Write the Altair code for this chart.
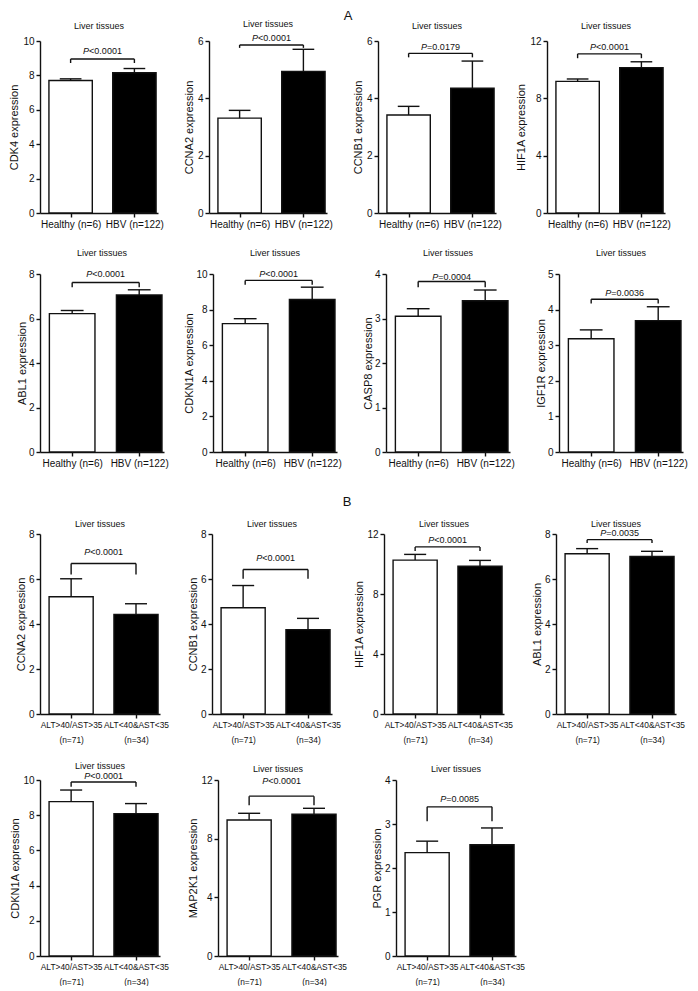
import json
import altair as alt
import pandas as pd

FONT = "Liberation Sans"

# ---------------- data ----------------
genes = ["CDK4", "CCNA2", "CCNB1", "HIF1A",
         "ABL1", "CDKN1A", "CASP8", "IGF1R",
         "CCNA2", "CCNB1", "HIF1A", "ABL1",
         "CDKN1A", "MAP2K1", "PGR"]
mean_g1 = [7.70, 3.31, 3.42, 9.18,
           6.22, 7.21, 3.05, 3.18,
           5.21, 4.72, 10.26, 7.12,
           8.77, 9.27, 2.35]
sd_g1 = [0.10, 0.27, 0.30, 0.17,
         0.14, 0.28, 0.17, 0.25,
         0.80, 0.99, 0.38, 0.23,
         0.66, 0.46, 0.26]
mean_g2 = [8.15, 4.94, 4.35, 10.14,
           7.06, 8.57, 3.40, 3.69,
           4.43, 3.75, 9.85, 7.00,
           8.09, 9.66, 2.53]
sd_g2 = [0.25, 0.77, 0.95, 0.41,
         0.23, 0.69, 0.24, 0.39,
         0.47, 0.50, 0.39, 0.23,
         0.57, 0.41, 0.38]
p_rest = ["<0.0001", "<0.0001", "=0.0179", "<0.0001",
          "<0.0001", "<0.0001", "=0.0004", "=0.0036",
          "<0.0001", "<0.0001", "<0.0001", "=0.0035",
          "<0.0001", "<0.0001", "=0.0085"]
y_max = [10, 6, 6, 12,
         8, 10, 4, 5,
         8, 8, 12, 8,
         10, 12, 4]
y_step = [2, 2, 2, 4,
          2, 2, 1, 1,
          2, 2, 4, 2,
          2, 4, 1]
bracket_y = [8.95, 5.86, 5.57, 11.10,
             7.62, 9.64, 3.83, 4.29,
             6.69, 6.42, 11.14, 7.75,
             9.89, 10.90, 3.39]
bracket_end = [8.72, 5.76, 5.43, 10.80,
               7.40, 9.40, 3.70, 4.17,
               6.20, 6.01, 10.87, 7.60,
               9.62, 10.27, 3.06]
p_text_y = [9.40, 6.10, 5.78, 11.57,
            7.98, 10.02, 3.94, 4.48,
            7.20, 6.94, 11.60, 8.03,
            10.20, 11.90, 3.56]
groups = ["g1", "g2"]
labels_A = [["Healthy (n=6)"], ["HBV (n=122)"]]
labels_B = [["ALT>40/AST>35", "(n=71)"], ["ALT<40&AST<35", "(n=34)"]]
panel_title = "Liver tissues"
section_titles = ["A", "B"]

# ---------------- chart ----------------
INK = "#111111"
LW = 1.4


def panel(i, labels, W, H, t_offset, t_pad, xfont):
    bars = pd.DataFrame({"pos": [0, 1], "group": groups,
                         "mean": [mean_g1[i], mean_g2[i]],
                         "sd": [sd_g1[i], sd_g2[i]]})
    brk = pd.DataFrame({"pos": [0, 1], "y": [bracket_y[i]] * 2,
                        "yend": [bracket_end[i]] * 2})
    txt = pd.DataFrame({"pos": [0, 1], "y": [p_text_y[i]] * 2,
                        "p": ["P", "P"], "rest": [p_rest[i]] * 2})

    xs = alt.Scale(domain=[-0.48, 1.37], nice=False, zero=False)
    ys = alt.Scale(domain=[0, y_max[i]], nice=False, zero=True)
    lab_expr = f"datum.value == 0 ? {json.dumps(labels[0])} : {json.dumps(labels[1])}"
    xaxis = alt.Axis(values=[0, 1], labelExpr=lab_expr, title=None, grid=False,
                     tickSize=4, labelPadding=2, labelLineHeight=15,
                     labelFontSize=xfont, labelFlush=False, labelOverlap=False)
    yaxis = alt.Axis(values=list(range(0, y_max[i] + 1, y_step[i])),
                     title=f"{genes[i]} expression", titlePadding=t_pad,
                     tickSize=4, labelPadding=2, format="d", grid=False,
                     labelOverlap=False)

    def X(field):
        return alt.X(field, scale=xs, axis=xaxis)

    def Y(field):
        return alt.Y(field, scale=ys, axis=yaxis)

    base = alt.Chart(bars).transform_calculate(
        lo="datum.pos - 0.34", hi="datum.pos + 0.34",
        clo="datum.pos - 0.17", chi="datum.pos + 0.17",
        top="datum.mean + datum.sd", zero="0")

    bar = base.mark_bar(stroke=INK, strokeWidth=LW).encode(
        x=X("lo:Q"), x2="hi:Q",
        y=Y("mean:Q"), y2="zero:Q",
        fill=alt.Fill("group:N", scale=alt.Scale(domain=groups, range=["white", "black"]),
                      legend=None),
    )
    err = base.mark_rule(color=INK, strokeWidth=LW).encode(
        x=X("pos:Q"), y=Y("mean:Q"), y2="top:Q")
    cap = base.mark_rule(color=INK, strokeWidth=LW).encode(
        x=X("clo:Q"), x2="chi:Q", y=Y("top:Q"))

    bb = alt.Chart(brk)
    bh = bb.mark_rule(color=INK, strokeWidth=LW).encode(
        x=X("min(pos):Q"), x2="max(pos):Q", y=Y("mean(y):Q"))
    bv = bb.mark_rule(color=INK, strokeWidth=LW).encode(
        x=X("pos:Q"), y=Y("y:Q"), y2="yend:Q")

    tb = alt.Chart(txt)
    tp = tb.mark_text(font=FONT, fontSize=9, fontStyle="italic", align="right",
                      baseline="middle", dx=-13.4, color=INK).encode(
        x=X("mean(pos):Q"), y=Y("mean(y):Q"), text="min(p):N")
    tr = tb.mark_text(font=FONT, fontSize=9, align="left",
                      baseline="middle", dx=-13.4, color=INK).encode(
        x=X("mean(pos):Q"), y=Y("mean(y):Q"), text="min(rest):N")

    return alt.layer(bar, err, cap, bh, bv, tp, tr).properties(
        width=W, height=H,
        title=alt.TitleParams(panel_title, fontSize=9, offset=t_offset,
                              anchor="middle"),
    )


row1 = alt.hconcat(*[panel(i, labels_A, 118, 172, 5, 3, 10) for i in range(0, 4)],
                   spacing=51, bounds="flush")
row2 = alt.hconcat(*[panel(i, labels_A, 124, 178, 11, 1, 10) for i in range(4, 8)],
                   spacing=49, bounds="flush")
row3 = alt.hconcat(*[panel(i, labels_B, 120, 180, 0, 2, 8.4) for i in range(8, 12)],
                   spacing=52, bounds="flush")
row4 = alt.hconcat(*[panel(i, labels_B, 120, 176, 1, 2, 8.4) for i in range(12, 15)],
                   spacing=58, bounds="flush")

blockA = alt.vconcat(row1, row2, spacing=20,
                     title=alt.TitleParams(section_titles[0], fontSize=13, anchor="middle", offset=-3))
blockB = alt.vconcat(row3, row4, spacing=18,
                     title=alt.TitleParams(section_titles[1], fontSize=13, anchor="middle", offset=11))

chart = alt.vconcat(blockA, blockB, spacing=28).properties(
    padding={"left": 0, "top": 2, "right": 0, "bottom": 0}
).configure_view(stroke=None).configure_axis(
    domainColor=INK, domainWidth=LW, tickColor=INK, tickWidth=LW,
    labelColor=INK, titleColor=INK, labelFont=FONT, titleFont=FONT,
    labelFontSize=10, titleFontSize=11, titleFontWeight="normal", grid=False,
).configure_title(font=FONT, fontWeight="normal", color=INK)

chart.save("out.html", embed_options={"renderer": "svg", "actions": False})
